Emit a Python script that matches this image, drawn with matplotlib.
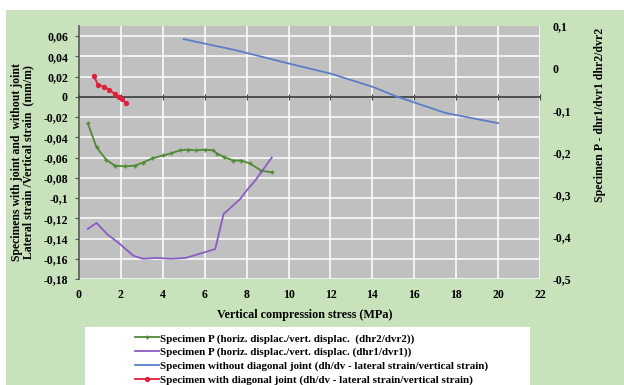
import matplotlib.pyplot as plt
from matplotlib.patches import Rectangle
from matplotlib.ticker import FuncFormatter

# Données
x_sans_joint = [5, 7.5, 10, 12, 14, 15.2, 17.5, 20]
y_sans_joint = [0.057, 0.046, 0.033, 0.023, 0.010, 0.0, -0.016, -0.026]

x_avec_joint = [0.7, 0.9, 1.2, 1.45, 1.7, 1.9, 2.05, 2.25]
y_avec_joint = [0.021, 0.012, 0.010, 0.007, 0.003, 0.0, -0.002, -0.006]

x_p2 = [0.42, 0.84, 1.3, 1.7, 2.2, 2.67, 3.05, 3.5, 4.0, 4.4, 4.8, 5.2, 5.6,
        6.0, 6.4, 6.6, 6.9, 7.35, 7.75, 8.15, 8.7, 9.2]
y_p2 = [-0.131, -0.188, -0.217, -0.231, -0.233, -0.231, -0.224, -0.214, -0.207,
        -0.202, -0.195, -0.193, -0.195, -0.193, -0.195, -0.203, -0.210, -0.219,
        -0.219, -0.226, -0.243, -0.247]

x_p1 = [0.42, 0.84, 1.33, 1.95, 2.6, 3.05, 3.7, 4.4, 5.1, 5.9, 6.5, 6.9, 7.7,
        8.0, 8.4, 9.2]
y_p1 = [-0.381, -0.367, -0.393, -0.417, -0.445, -0.452, -0.450, -0.452, -0.450,
        -0.438, -0.429, -0.346, -0.310, -0.290, -0.267, -0.212]

x_ticks = list(range(0, 23, 2))
left_ticks = [round(-0.18 + 0.02 * i, 2) for i in range(13)]
right_ticks = [0.1, 0.0, -0.1, -0.2, -0.3, -0.4, -0.5]

labels = ['Specimen P (horiz. displac./vert. displac.  (dhr2/dvr2))',
          'Specimen P (horiz. displac./vert. displac. (dhr1/dvr1))',
          'Specimen without diagonal joint (dh/dv - lateral strain/vertical strain)',
          'Specimen with diagonal joint (dh/dv - lateral strain/vertical strain)']

plt.rcParams['font.family'] = ['Liberation Serif', 'DejaVu Serif']
plt.rcParams['font.weight'] = 'bold'

W, H = 624, 385
fig = plt.figure(figsize=(W / 100, H / 100), dpi=100, facecolor='white')

# Fond vert et cadre blanc de la légende
fig.patches.append(Rectangle((6 / W, 0), 1, 1 - 10 / H, transform=fig.transFigure,
                             facecolor='#c8e2bc', edgecolor='none', zorder=-3))
fig.patches.append(Rectangle((85 / W, -0.1), 445 / W, 0.1 + 1 - 327 / H,
                             transform=fig.transFigure, facecolor='white',
                             edgecolor='none', zorder=-2))


def virgule(v, pos):
    s = ('%.2f' % v).rstrip('0').rstrip('.')
    if s in ('-0', '0'):
        return '0'
    return s.replace('.', ',')


ax = fig.add_axes([79 / W, 1 - 279 / H, (540 - 79) / W, (279 - 26) / H])
ax.set_facecolor('#c0c0c0')
ax.set_xlim(0, 22)
ax.set_ylim(-0.18, 0.07)
ax.set_xticks(x_ticks)
ax.set_yticks(left_ticks)
ax.yaxis.set_major_formatter(FuncFormatter(virgule))
ax.grid(True, color='white', lw=1.1)
ax.set_axisbelow(True)
for s in ['top', 'right']:
    ax.spines[s].set_visible(False)
ax.spines['left'].set_color('#555555')
ax.spines['left'].set_linewidth(1.2)
ax.spines['bottom'].set_position(('data', 0))
ax.spines['bottom'].set_color('#404040')
ax.spines['bottom'].set_linewidth(1.3)
ax.tick_params(axis='x', direction='inout', length=5, color='#404040',
               labelbottom=False)
ax.tick_params(axis='y', length=3, color='#555555', labelsize=8.5, pad=5)

sec = ax.secondary_xaxis(0)
sec.set_xticks(x_ticks)
sec.tick_params(length=0, labelsize=8.5, pad=7)
sec.spines['bottom'].set_visible(False)

ax.plot(x_sans_joint, y_sans_joint, color='#5b7fc6', lw=1.3, zorder=3)
ax.plot(x_avec_joint, y_avec_joint, color='#e0203a', lw=1.3, marker='o',
        ms=2.8, zorder=3)

ax2 = ax.twinx()
ax2.set_ylim(-0.5, 0.1)
ax2.set_yticks(right_ticks)
ax2.yaxis.set_major_formatter(FuncFormatter(virgule))
for s in ax2.spines.values():
    s.set_visible(False)
ax2.tick_params(axis='y', length=0, labelsize=8.5, pad=9)
l_p2, = ax2.plot(x_p2, y_p2, color='#4f8a34', lw=1.3, marker='+', ms=3.5, mew=1)
l_p1, = ax2.plot(x_p1, y_p1, color='#8a5cc2', lw=1.3)
l_sj, = ax2.plot([], [], color='#5b7fc6', lw=1.3)
l_aj, = ax2.plot([], [], color='#e0203a', lw=1.3, marker='o', ms=2.8)

fig.text(305 / W, 1 - 315 / H, 'Vertical compression stress (MPa)',
         ha='center', va='center', fontsize=8.7)
fig.text(23 / W, 1 - 162 / H,
         'Specimens with joint and  without joint\nLateral strain /Vertical strain  (mm/m)',
         rotation=90, ha='center', va='center', fontsize=8.5, linespacing=0.9)
fig.text(600 / W, 1 - 115 / H, 'Specimen P - dhr1/dvr1 dhr2/dvr2',
         rotation=90, ha='center', va='center', fontsize=8.6)

leg = fig.legend([l_p2, l_p1, l_sj, l_aj], labels, loc='upper left',
                 bbox_to_anchor=(128 / W, 1 - 327 / H), frameon=False,
                 fontsize=7.9, handlelength=2.2, handletextpad=0.1,
                 labelspacing=0.35, borderpad=0.1)
leg.set_zorder(5)

fig.savefig('out.png', dpi=100, facecolor='white')
